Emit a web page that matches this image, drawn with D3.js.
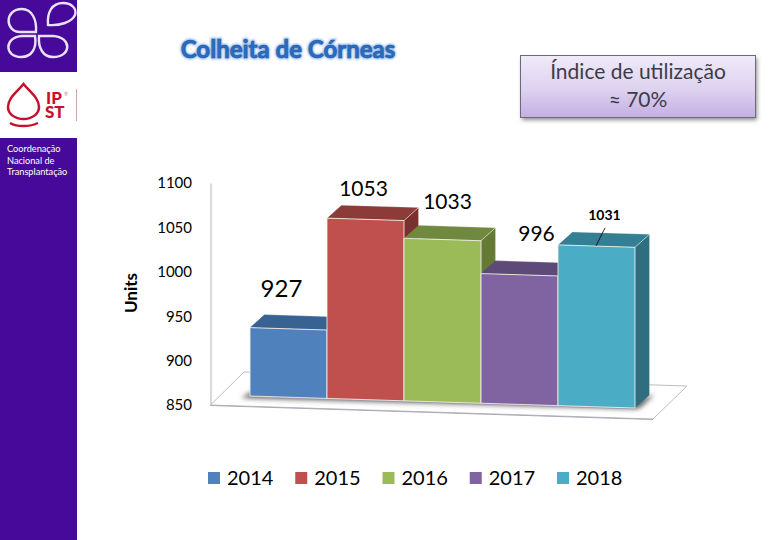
<!DOCTYPE html>
<html lang="pt">
<head>
<meta charset="utf-8">
<title>Colheita de Córneas</title>
<script src="https://cdn.jsdelivr.net/npm/d3@7"></script>
<style>
html,body{margin:0;padding:0;background:#fff;}
svg{display:block;}
text{font-family:Lato,"Open Sans",sans-serif;}
</style>
</head>
<body>
<div id="chart"></div>
<script>
const years = ["2014","2015","2016","2017","2018"];
const values = [927,1053,1033,996,1031];
const frontColors = ["#4F81BD","#C0504D","#9BBB59","#8064A2","#4BACC6"];
const topColors = ["#386291","#8C3B39","#71893F","#5E4A78","#357F94"];
const sideColors = ["#2F5379","#7A302E","#647A35","#4F3E66","#2E6E80"];
const tickValues = [850,900,950,1000,1050,1100];
const sidebarLines = ["Coordenação","Nacional de","Transplantação"];
const titleText = "Colheita de Córneas";
const boxLines = ["Índice de utilização","≈ 70%"];
const axisTitle = "Units";

const svg = d3.select("#chart").append("svg").attr("width",780).attr("height",540);
const defs = svg.append("defs");

const boxGrad = defs.append("linearGradient").attr("id","boxGrad").attr("x1",0).attr("y1",0).attr("x2",0).attr("y2",1);
boxGrad.append("stop").attr("offset","0%").attr("stop-color","#F0EBF9");
boxGrad.append("stop").attr("offset","55%").attr("stop-color","#DDD2F0");
boxGrad.append("stop").attr("offset","100%").attr("stop-color","#C3AFE2");
const blur1 = defs.append("filter").attr("id","blur1").attr("x","-10%").attr("y","-50%").attr("width","120%").attr("height","200%");
blur1.append("feGaussianBlur").attr("stdDeviation",1.1);
const blur2 = defs.append("filter").attr("id","blur2").attr("x","-30%").attr("y","-30%").attr("width","160%").attr("height","160%");
blur2.append("feGaussianBlur").attr("stdDeviation",2);
const blur3 = defs.append("filter").attr("id","blur3").attr("x","-50%").attr("y","-100%").attr("width","200%").attr("height","300%");
blur3.append("feGaussianBlur").attr("stdDeviation",2.5);

/* sidebar */
const side = svg.append("g");
side.append("rect").attr("x",0).attr("y",0).attr("width",77).attr("height",72).attr("fill","#46099A");
side.append("rect").attr("x",0).attr("y",138).attr("width",77).attr("height",402).attr("fill","#46099A");
const petals = [
  "M36,32 L20,32 C5,32 4,9 22,9 C32,9 37,20 36,32Z",
  "M48,25 C47,12 52,3 63,3 C72,3 77,9 75,15 C72,22 60,26 48,25Z",
  "M35,36 L22,36 C4,37 4,57 21,57 C32,57 37,48 35,36Z",
  "M39,36 C38,48 43,57 53,57 C72,57 72,37 53,36Z"
];
side.selectAll("path.petal").data(petals).join("path").attr("class","petal").attr("d",d=>d)
  .attr("fill","none").attr("stroke","#E9E2F6").attr("stroke-width",2.4);
side.append("path").attr("d","M23.5,84 C17,92 8,98 8,107 C8,114 15,119 23.5,119 C32,119 39,114 39,107 C39,98 30,92 23.5,84Z")
  .attr("fill","none").attr("stroke","#C8102E").attr("stroke-width",2.5);
side.append("path").attr("d","M10,123 C17,127 30,127 38,123").attr("fill","none").attr("stroke","#C8102E").attr("stroke-width",2.5);
side.append("text").attr("x",46).attr("y",104).attr("font-size",17).attr("font-weight",900).attr("fill","#C8102E").text("IP");
side.append("text").attr("x",45).attr("y",118).attr("font-size",17).attr("font-weight",900).attr("fill","#C8102E").text("ST");
side.append("text").attr("x",64).attr("y",96).attr("font-size",5).attr("fill","#B88").text("®");
side.append("line").attr("x1",76.5).attr("x2",76.5).attr("y1",89).attr("y2",121).attr("stroke","#C9A9A9");
side.selectAll("text.sb").data(sidebarLines).join("text").attr("class","sb")
  .attr("x",7).attr("y",(d,i)=>152+i*11.5).attr("font-size",9.2).attr("fill","#fff").text(d=>d);

/* title */
const titleG = svg.append("g");
titleG.append("text").attr("x",288).attr("y",58).attr("text-anchor","middle").attr("font-size",24).attr("font-weight",700)
  .attr("fill","none").attr("stroke","#7FA8E0").attr("stroke-width",2.5).attr("filter","url(#blur1)").attr("opacity",.85).text(titleText);
titleG.append("text").attr("x",288).attr("y",58).attr("text-anchor","middle").attr("font-size",24).attr("font-weight",700)
  .attr("fill","#2A6CC0").attr("stroke","#1F5AA8").attr("stroke-width",.6).text(titleText);

/* info box */
svg.append("rect").attr("x",522).attr("y",58).attr("width",235).attr("height",62).attr("fill","#8a8a8a").attr("filter","url(#blur2)");
svg.append("rect").attr("x",520.5).attr("y",55.5).attr("width",235).attr("height",62)
  .attr("fill","url(#boxGrad)").attr("stroke","#6B6B78").attr("stroke-width",1);
svg.selectAll("text.box").data(boxLines).join("text").attr("class","box")
  .attr("x",638).attr("y",(d,i)=>79+i*28).attr("text-anchor","middle").attr("font-size",21).attr("fill","#3C3C48").text(d=>d);

/* chart scales */
const y = d3.scaleLinear().domain([850,1100]).range([405,183]);
const x = d3.scaleBand().domain(years).range([250,635]).padding(0);
const baseY = px => 396 + (px-250)*0.0312;
const depth = {dx:14.5, dy:-13};
const topY = (px,v) => baseY(px) - (y(850)-y(v));

/* floor */
const floorPts = [[210.5,405],[244,372],[687,386],[653,419]];
svg.append("polygon").attr("points",floorPts.join(" ")).attr("fill","#fff").attr("stroke","#BDBDBD").attr("stroke-width",1);
svg.append("line").attr("x1",210.5).attr("y1",405.5).attr("x2",653).attr("y2",419.5).attr("stroke","#A9A9B8").attr("stroke-width",1);

/* bar shadow on floor */
const x0 = x.range()[0], x1 = x.range()[1];
svg.append("polygon").attr("filter","url(#blur3)").attr("fill","#666")
  .attr("points",[[241,398],[x1,baseY(x1)+1],[x1+5,baseY(x1)],[x1+19,baseY(x1)-13],[x1,baseY(x1)-9],[x0+3,baseY(x0)-5]].join(" "));
svg.append("line").attr("x1",x0).attr("y1",baseY(x0)+.5).attr("x2",x1).attr("y2",baseY(x1)+.5).attr("stroke","#9b9ba8").attr("stroke-width",1.5);

/* axis */
const axis = d3.axisLeft(y).tickValues(tickValues).tickSize(0).tickPadding(18.5).tickFormat(d3.format("d"));
const axG = svg.append("g").attr("transform","translate(210.5,0)").call(axis);
axG.select(".domain").attr("stroke","#B5B5B5").attr("stroke-width",1);
axG.selectAll("text").attr("font-size",15).attr("fill","#000").style("font-family","Lato,sans-serif");

svg.append("text").attr("transform","translate(137,293) rotate(-90)").attr("text-anchor","middle")
  .attr("font-size",17).attr("font-weight",700).attr("fill","#000").text(axisTitle);

/* bars */
const bars = svg.selectAll("g.bar").data(years).join("g").attr("class","bar");
bars.each(function(yr,i){
  const g = d3.select(this), v = values[i];
  const l = x(yr), r = l + x.bandwidth();
  const tl = [l,topY(l,v)], tr = [r,topY(r,v)], bl = [l,baseY(l)], br = [r,baseY(r)];
  const back = p => [p[0]+depth.dx,p[1]+depth.dy];
  g.append("polygon").attr("points",[tr,back(tr),back(br),br].join(" ")).attr("fill",sideColors[i]);
  g.append("polygon").attr("points",[tl,back(tl),back(tr),tr].join(" ")).attr("fill",topColors[i]);
  g.append("polyline").attr("points",[back(tl),back(tr),back(br)].join(" ")).attr("fill","none").attr("stroke","#fff").attr("stroke-opacity",.35).attr("stroke-width",.7);
  g.append("line").attr("x1",tr[0]).attr("y1",tr[1]).attr("x2",back(tr)[0]).attr("y2",back(tr)[1]).attr("stroke","#fff").attr("stroke-opacity",.6).attr("stroke-width",.8);
  g.append("polygon").attr("points",[tl,tr,br,bl].join(" ")).attr("fill",frontColors[i])
    .attr("stroke","#F4F0E6").attr("stroke-opacity",.85).attr("stroke-width",1);
});

/* value labels (hand-placed in the original, offsets relative to each bar) */
const labelOffsetX = [-7,-2,5,17,8];
const labelOffsetY = [-31,-22,-29,-33,-25];
const labelSize = [24,21,21,21,14];
svg.selectAll("text.val").data(values).join("text").attr("class","val")
  .attr("x",(d,i)=>x(years[i])+x.bandwidth()/2+labelOffsetX[i])
  .attr("y",(d,i)=>topY(x(years[i]),d)+labelOffsetY[i])
  .attr("text-anchor","middle").attr("font-size",(d,i)=>labelSize[i]).attr("font-weight",(d,i)=>i===4?700:400)
  .attr("fill","#000").text(d=>d);
const lastX = x(years[4]);
svg.append("line").attr("x1",lastX+47).attr("y1",topY(lastX,values[4])-17).attr("x2",lastX+38).attr("y2",topY(lastX,values[4])+1)
  .attr("stroke","#000").attr("stroke-width",.8);

/* legend */
const legendX = d3.scalePoint().domain(years).range([208,557]);
const leg = svg.selectAll("g.leg").data(years).join("g").attr("class","leg").attr("transform",d=>`translate(${legendX(d)},472)`);
leg.append("rect").attr("width",12).attr("height",12).attr("fill",(d,i)=>frontColors[i]);
leg.append("text").attr("x",19).attr("y",13).attr("font-size",20).attr("fill","#000").text(d=>d);
</script>
</body>
</html>
